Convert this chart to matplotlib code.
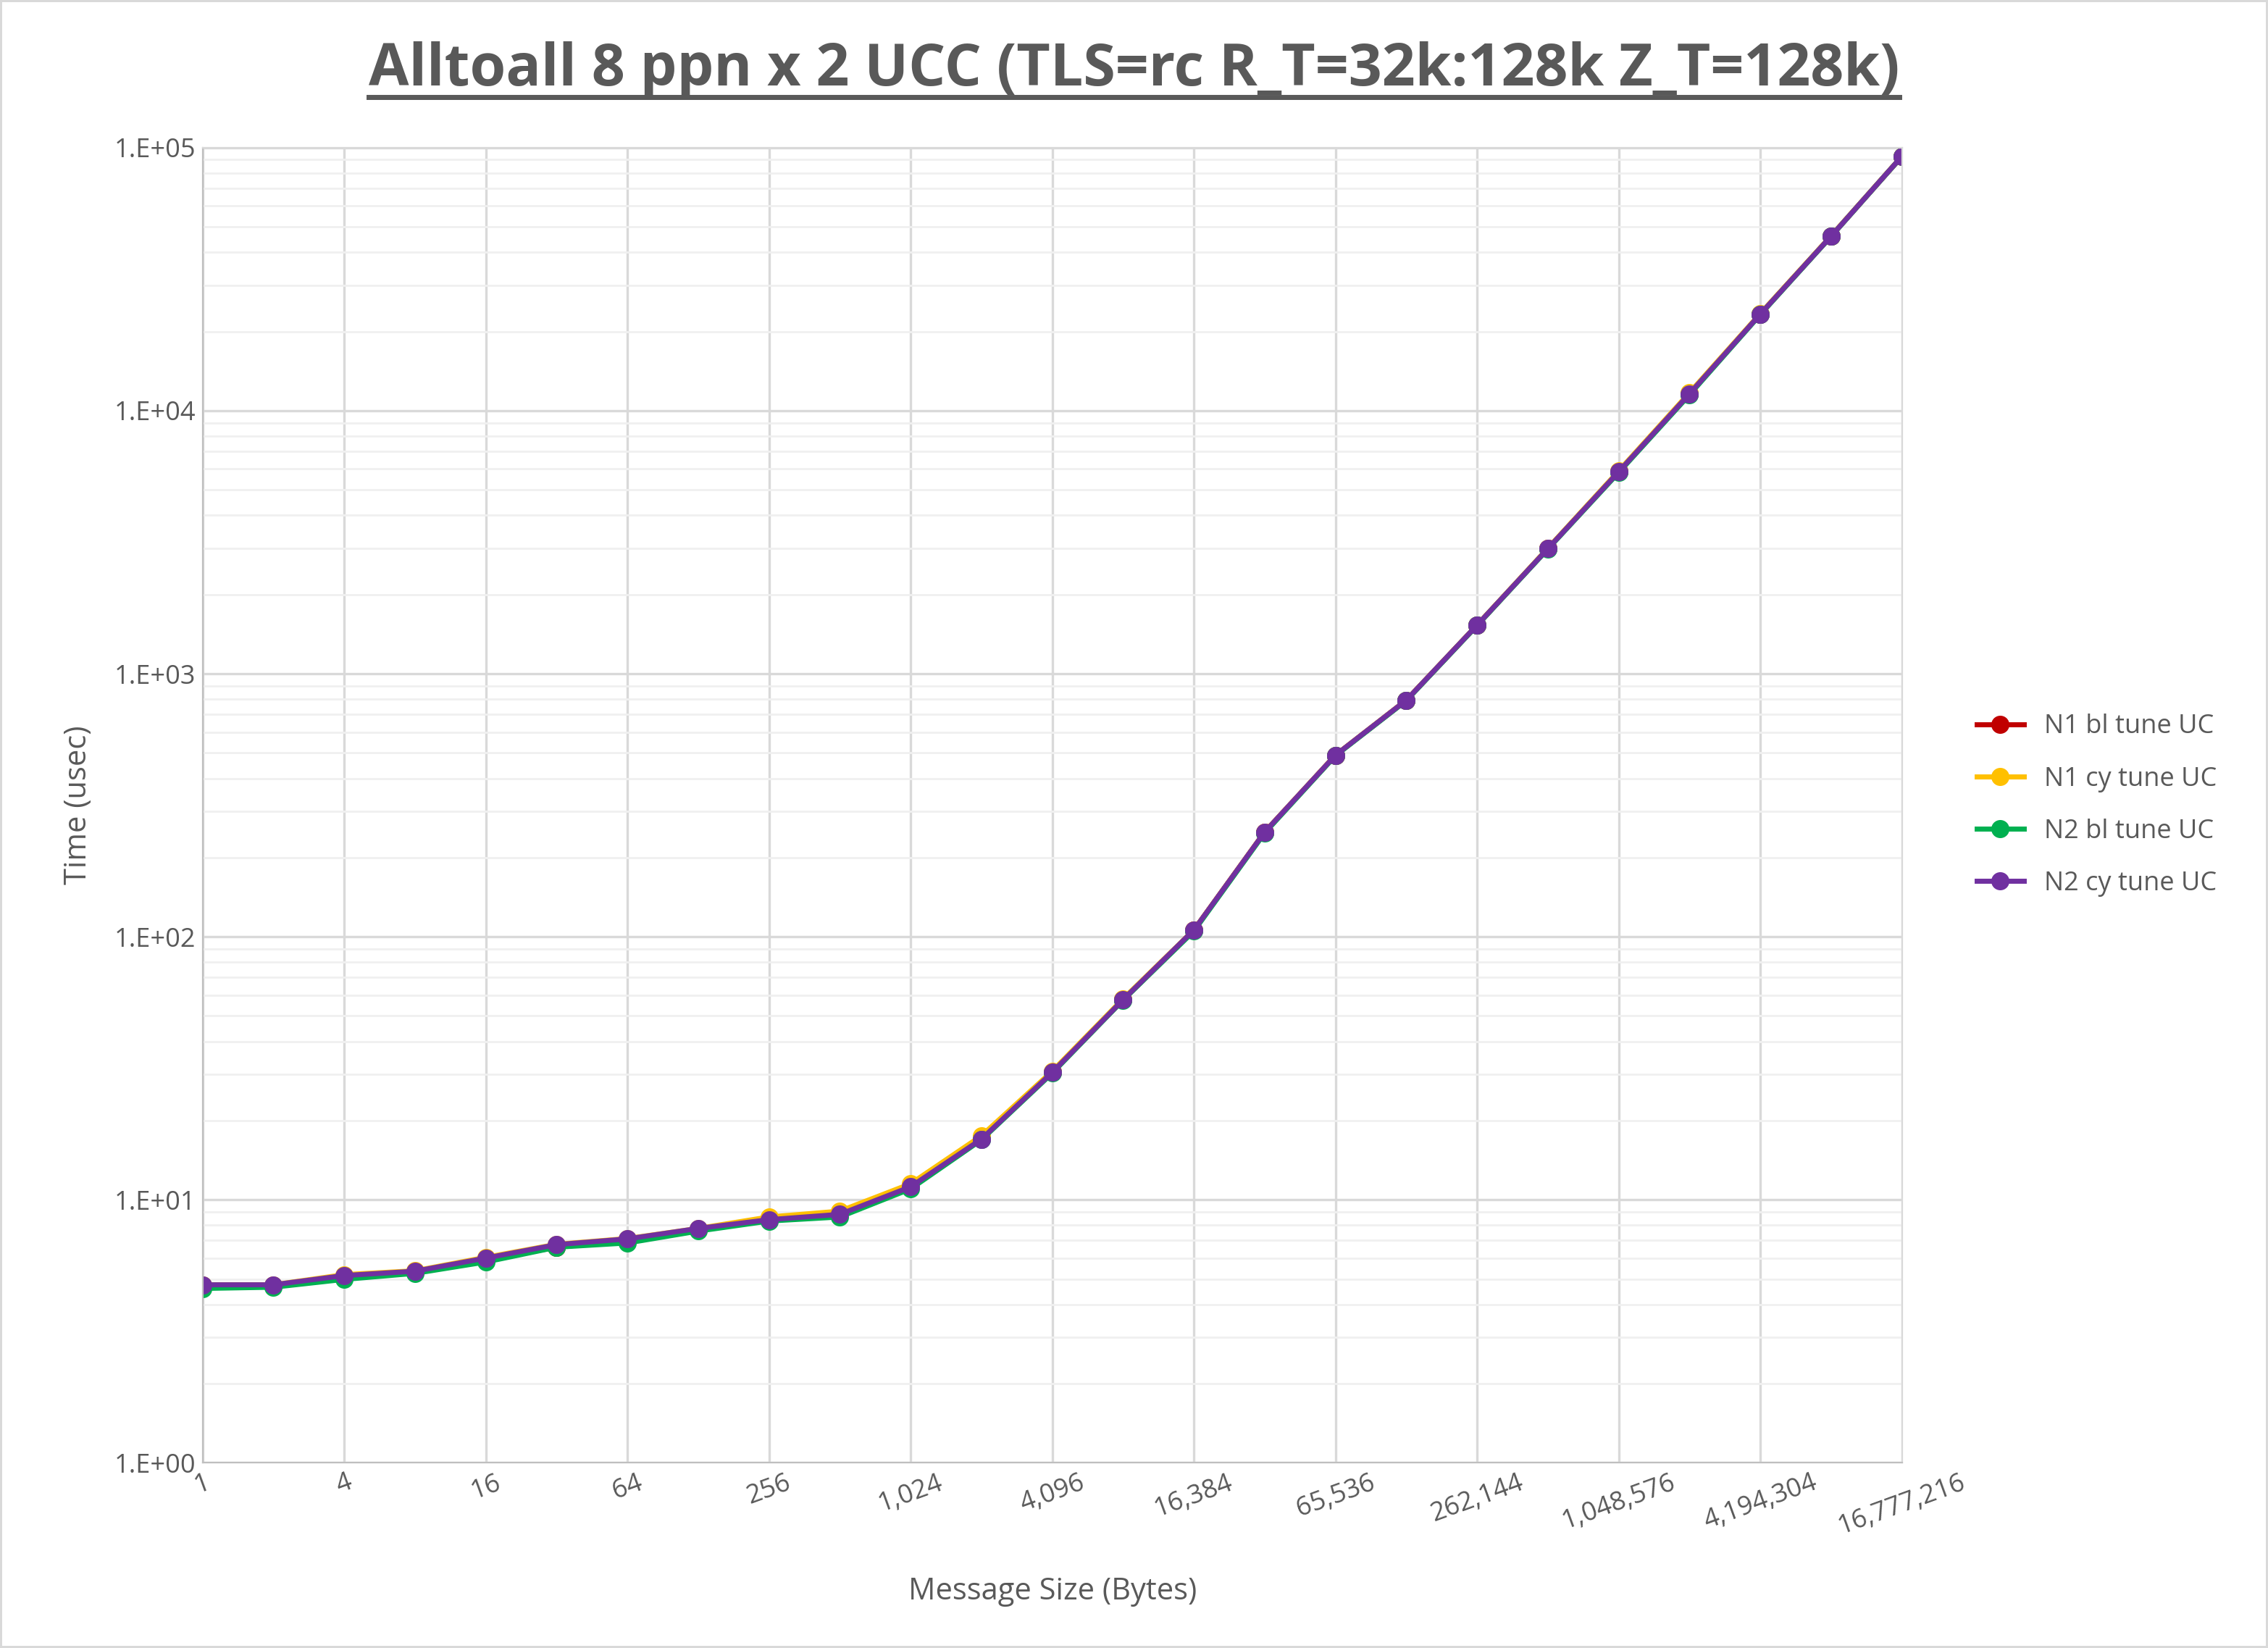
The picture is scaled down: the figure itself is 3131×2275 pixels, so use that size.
import matplotlib
matplotlib.use('Agg')
import matplotlib.pyplot as plt
from matplotlib.lines import Line2D
from matplotlib.ticker import FixedLocator, LogLocator, NullFormatter

sizes = [2**i for i in range(25)]
n1_bl = [4.7, 4.7, 5.1, 5.3, 5.9, 6.6, 7.0, 7.7, 8.5, 8.9, 11.3, 17.2, 30.5, 57.6, 106, 250, 490, 793, 1530, 2990, 5860, 11600, 23300, 46100, 92700]
n1_cy = [4.75, 4.75, 5.19, 5.37, 6.04, 6.77, 7.12, 7.78, 8.6, 9.05, 11.5, 17.5, 30.8, 58, 106, 250, 490, 793, 1530, 3000, 5900, 11700, 23400, 46200, 92700]
n2_bl = [4.6, 4.65, 4.98, 5.25, 5.8, 6.6, 6.85, 7.6, 8.3, 8.6, 11.0, 16.9, 30.3, 57.4, 105, 248, 488, 790, 1525, 2980, 5820, 11500, 23200, 46000, 92600]
n2_cy = [4.75, 4.75, 5.15, 5.35, 6.0, 6.75, 7.1, 7.78, 8.4, 8.8, 11.2, 17.0, 30.5, 57.6, 106, 250, 490, 793, 1530, 2990, 5860, 11600, 23300, 46100, 92700]
series = [("N1 bl tune UC", n1_bl, "#C00000"),
          ("N1 cy tune UC", n1_cy, "#FFC000"),
          ("N2 bl tune UC", n2_bl, "#00B050"),
          ("N2 cy tune UC", n2_cy, "#7030A0")]
xticks = sizes[::2]

plt.rcParams['font.family'] = 'Open Sans'
fig = plt.figure(figsize=(15.655, 11.375), dpi=200)
fig.patch.set_edgecolor('#D9D9D9')
fig.patch.set_linewidth(2)
ax = fig.add_axes([0.0893, 0.1124, 0.7493, 0.798])

for name, vals, col in series:
    ax.plot(sizes, vals, color=col, lw=2.5, marker='o', ms=8, label=name)

ax.set_xscale('log', base=2)
ax.set_yscale('log')
ax.set_xlim(1, 2**24)
ax.set_ylim(1, 1e5)
ax.xaxis.set_major_locator(FixedLocator(xticks))
ax.xaxis.set_minor_locator(FixedLocator([]))
ax.set_xticklabels([f"{v:,}" for v in xticks], rotation=20, ha='center', fontsize=13, color='#595959')
ax.set_yticks([10**i for i in range(6)])
ax.set_yticklabels([f"1.E+{i:02d}" for i in range(6)], fontsize=13, color='#595959')
ax.yaxis.set_minor_locator(LogLocator(base=10, subs=range(2, 10)))
ax.yaxis.set_minor_formatter(NullFormatter())
ax.tick_params(length=0, which='both')
ax.grid(True, which='major', color='#D9D9D9', lw=1.2)
ax.grid(True, which='minor', axis='y', color='#F0F0F0', lw=1)
for s in ['top', 'right']:
    ax.spines[s].set_color('#D9D9D9')
for s in ['left', 'bottom']:
    ax.spines[s].set_color('#BFBFBF')

ax.set_xlabel('Message Size (Bytes)', fontsize=15, color='#595959', labelpad=18)
ax.set_ylabel('Time (usec)', fontsize=15, color='#595959', labelpad=10)
ax.legend(loc='center left', bbox_to_anchor=(1.03, 0.5), frameon=False,
          fontsize=13, labelcolor='#595959', labelspacing=1.0, handlelength=1.8)

t = fig.text(0.5, 0.948, 'Alltoall 8 ppn x 2 UCC (TLS=rc R_T=32k:128k Z_T=128k)',
             ha='center', va='baseline', fontsize=29, fontweight='bold', color='#595959')
fig.canvas.draw()
bb = t.get_window_extent().transformed(fig.transFigure.inverted())
fig.add_artist(Line2D([bb.x0, bb.x1], [0.941, 0.941], color='#595959', lw=2.5,
                      transform=fig.transFigure))

fig.savefig('out.png', dpi=200)
